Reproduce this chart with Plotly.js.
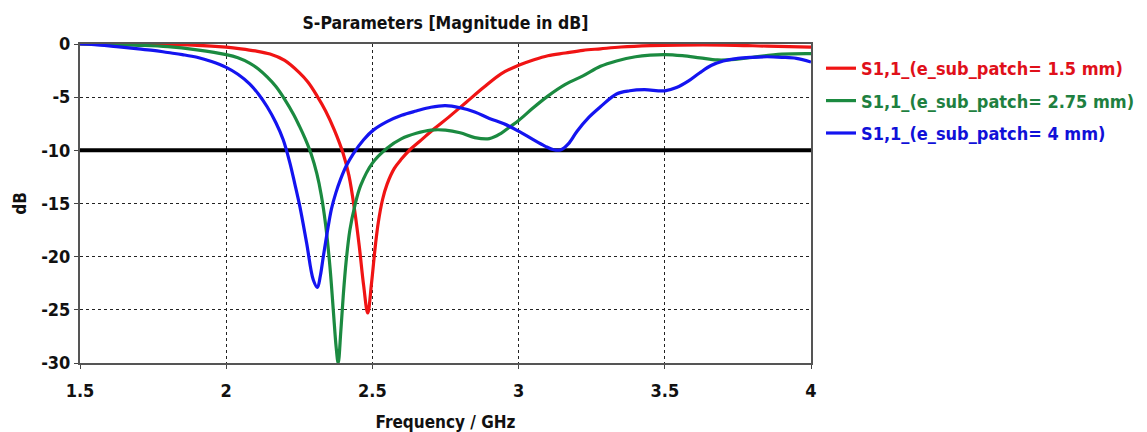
<!DOCTYPE html>
<html>
<head>
<meta charset="utf-8">
<script src="https://cdn.plot.ly/plotly-3.0.1.min.js"></script>
<style>html,body{margin:0;padding:0;background:#fff;}#chart{width:1147px;height:432px;}</style>
</head>
<body>
<div id="chart"></div>
<script>
// ---- data ----
const seriesNames = ["S1,1_(e_sub_patch= 1.5 mm)", "S1,1_(e_sub_patch= 2.75 mm)", "S1,1_(e_sub_patch= 4 mm)"];
const seriesColors = ["#f01414", "#1b8a40", "#1414f0"];
const legendTextColors = ["#e0101a", "#1e8040", "#1010d8"];

const freqRed = [1.5,1.6,1.7,1.8,1.9,2.0,2.05,2.1,2.15,2.2,2.25,2.28,2.31,2.34,2.37,2.40,2.42,2.44,2.455,2.47,2.484,2.497,2.51,2.52,2.535,2.55,2.575,2.6,2.63,2.66,2.71,2.76,2.82,2.88,2.94,3.0,3.05,3.1,3.16,3.22,3.28,3.35,3.45,3.55,3.7,3.85,4.0];
const s11Red  = [0,-0.01,-0.03,-0.06,-0.12,-0.3,-0.45,-0.65,-0.95,-1.55,-2.7,-3.6,-4.85,-6.3,-8.1,-10.3,-12.4,-15.8,-19.0,-22.7,-25.3,-22.5,-19.0,-16.8,-14.6,-13.2,-11.7,-10.8,-9.9,-9.2,-8.0,-6.9,-5.5,-4.1,-2.8,-2.0,-1.5,-1.1,-0.85,-0.6,-0.45,-0.28,-0.15,-0.1,-0.1,-0.2,-0.3];

const freqGreen = [1.5,1.6,1.7,1.8,1.9,2.0,2.04,2.08,2.11,2.14,2.17,2.2,2.23,2.25,2.27,2.29,2.31,2.325,2.34,2.355,2.367,2.376,2.383,2.392,2.40,2.41,2.423,2.44,2.46,2.5,2.55,2.6,2.65,2.7,2.75,2.8,2.85,2.9,2.94,2.97,3.0,3.05,3.1,3.16,3.22,3.28,3.335,3.4,3.45,3.5,3.56,3.62,3.68,3.74,3.8,3.9,4.0];
const s11Green  = [0,-0.05,-0.12,-0.25,-0.55,-1.0,-1.3,-1.8,-2.35,-3.1,-4.0,-5.2,-6.6,-7.7,-8.9,-10.3,-12.2,-14.2,-17.0,-21.0,-25.3,-28.5,-30.0,-27.0,-23.8,-20.5,-17.5,-15.2,-13.3,-11.2,-9.8,-8.9,-8.4,-8.1,-8.1,-8.35,-8.8,-8.9,-8.4,-7.8,-7.2,-6.0,-4.9,-3.8,-3.0,-2.1,-1.6,-1.2,-1.05,-1.0,-1.1,-1.3,-1.5,-1.45,-1.25,-0.95,-0.9];

const freqBlue = [1.5,1.55,1.625,1.7,1.75,1.8,1.85,1.9,1.95,2.0,2.04,2.08,2.11,2.14,2.17,2.195,2.218,2.235,2.252,2.275,2.298,2.312,2.322,2.332,2.345,2.36,2.375,2.39,2.41,2.435,2.47,2.503,2.55,2.6,2.65,2.7,2.75,2.8,2.85,2.9,2.95,3.0,3.05,3.09,3.12,3.145,3.17,3.2,3.24,3.28,3.335,3.38,3.43,3.5,3.54,3.58,3.62,3.66,3.7,3.75,3.8,3.85,3.9,3.95,4.0];
const s11Blue  = [0,-0.05,-0.25,-0.45,-0.6,-0.8,-1.0,-1.25,-1.65,-2.2,-2.85,-3.75,-4.7,-5.9,-7.4,-9.0,-11.2,-13.2,-15.3,-18.7,-22.2,-22.9,-21.8,-20.0,-17.8,-15.5,-14.0,-12.8,-11.5,-10.3,-9.0,-8.1,-7.3,-6.7,-6.3,-5.95,-5.8,-6.0,-6.4,-7.0,-7.5,-8.2,-9.0,-9.6,-9.95,-9.95,-9.4,-8.2,-6.9,-5.9,-4.7,-4.4,-4.3,-4.4,-4.1,-3.5,-2.7,-2.0,-1.6,-1.35,-1.25,-1.2,-1.25,-1.35,-1.7];

const refFreq = [1.5, 4.0];
const refLevel = [-10, -10];

const xTickVals = [1.5, 2, 2.5, 3, 3.5, 4];
const xTickText = ["1.5", "2", "2.5", "3", "3.5", "4"];
const yTickVals = [0, -5, -10, -15, -20, -25, -30];
const yTickText = ["0", "-5", "-10", "-15", "-20", "-25", "-30"];

const chartTitle = "S-Parameters [Magnitude in dB]";
const xTitle = "Frequency / GHz";
const yTitle = "dB";

// ---- chart ----
const FONT = "DejaVu Sans Condensed, DejaVu Sans, sans-serif";
const xs = [freqRed, freqGreen, freqBlue];
const ys = [s11Red, s11Green, s11Blue];

const traces = [{
  x: refFreq, y: refLevel, mode: "lines", showlegend: false, hoverinfo: "skip",
  line: {color: "#000000", width: 4}
}];
for (let i = 0; i < 3; i++) {
  traces.push({
    x: xs[i], y: ys[i], mode: "lines",
    name: '<span style="color:' + legendTextColors[i] + '">' + seriesNames[i] + '</span>',
    legendgroup: "g" + i,
    line: {color: seriesColors[i], width: 3.2, shape: "spline", smoothing: 1.0}
  });
}

const layout = {
  width: 1147, height: 432,
  margin: {l: 80, r: 336, t: 44, b: 69},
  paper_bgcolor: "#ffffff", plot_bgcolor: "#ffffff",
  font: {family: FONT, size: 17, color: "#111111", weight: "bold"},
  title: {text: chartTitle, x: 0.5, xref: "paper", xanchor: "center",
          y: 1 - 23/432, yref: "container", yanchor: "middle",
          font: {family: FONT, size: 17.5, color: "#111111", weight: "bold"}},
  showlegend: true,
  legend: {xref: "container", yref: "container",
           x: 821/1147, xanchor: "left", y: 1 - 50/432, yanchor: "top",
           traceorder: "grouped", tracegroupgap: 6,
           font: {family: FONT, size: 18, weight: "bold"},
           bgcolor: "rgba(0,0,0,0)", borderwidth: 0},
  xaxis: {
    range: [1.5, 4], tickvals: xTickVals, ticktext: xTickText,
    showgrid: true, gridcolor: "#222222", gridwidth: 1, griddash: "3px,3px",
    showline: true, linecolor: "#555555", linewidth: 2, mirror: true,
    ticks: "outside", ticklen: 4, tickwidth: 1, tickcolor: "#444444",
    ticklabelstandoff: 6,
    zeroline: false, automargin: false,
    tickfont: {family: FONT, size: 18, color: "#111111", weight: "bold"},
    title: {text: xTitle, standoff: 18, font: {family: FONT, size: 17, color: "#111111", weight: "bold"}}
  },
  yaxis: {
    range: [-30, 0], tickvals: yTickVals, ticktext: yTickText,
    showgrid: true, gridcolor: "#222222", gridwidth: 1, griddash: "3px,3px",
    showline: true, linecolor: "#555555", linewidth: 2, mirror: true,
    ticks: "outside", ticklen: 4, tickwidth: 1, tickcolor: "#444444",
    zeroline: false, automargin: false,
    tickfont: {family: FONT, size: 18, color: "#111111", weight: "bold"},
    title: {text: yTitle, standoff: 10, font: {family: FONT, size: 17, color: "#111111", weight: "bold"}}
  }
};

Plotly.newPlot("chart", traces, layout, {staticPlot: true, displayModeBar: false});
</script>
</body>
</html>
